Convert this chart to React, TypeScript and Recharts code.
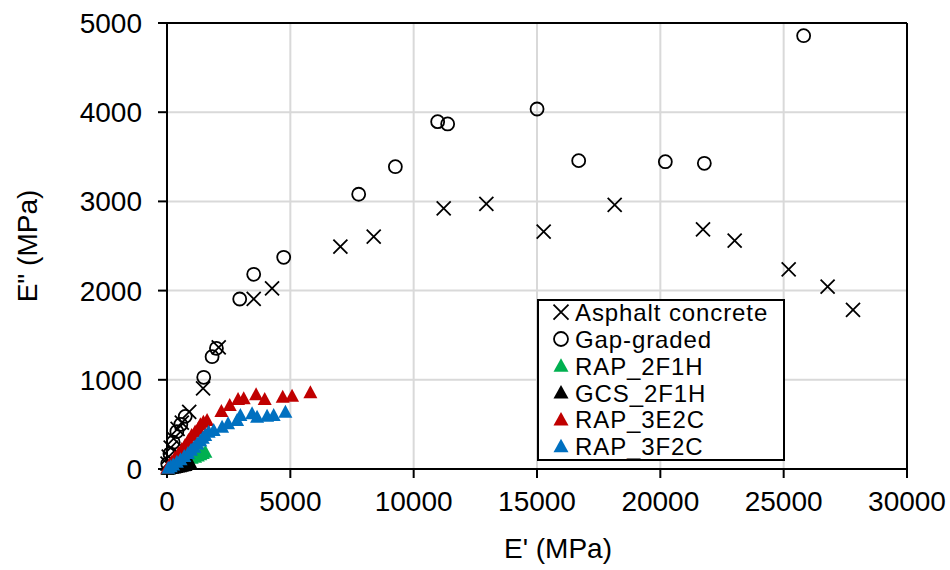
import { ScatterChart, Scatter, XAxis, YAxis, CartesianGrid, ReferenceLine, Label } from "recharts";

// E' (x) and E'' (y) values per mix, in MPa
const asphaltX = [20, 70, 150, 270, 430, 600, 900, 1463, 2097, 3515, 4259, 7029, 8380, 11217, 12947, 15270, 18149, 21730, 23013, 25203, 26782, 27811];
const asphaltY = [60, 140, 240, 340, 450, 520, 640, 905, 1364, 1906, 2026, 2492, 2604, 2922, 2971, 2661, 2960, 2687, 2560, 2239, 2044, 1783];

const gapX = [30, 120, 250, 400, 560, 740, 1489, 1828, 2004, 2948, 3515, 4731, 7771, 9258, 10973, 11378, 15002, 16690, 20203, 21784, 25810];
const gapY = [60, 170, 300, 420, 500, 590, 1028, 1259, 1353, 1906, 2183, 2373, 3080, 3389, 3894, 3868, 4036, 3457, 3445, 3427, 4858];

const rap2f1hX = [30, 90, 150, 250, 350, 480, 600, 720, 850, 1000, 1138, 1250, 1350, 1450, 1556];
const rap2f1hY = [5, 15, 25, 38, 50, 65, 80, 95, 110, 125, 138, 150, 165, 180, 194];

const gcs2f1hX = [20, 80, 150, 220, 300, 380, 450, 530, 600, 680, 750, 850, 950];
const gcs2f1hY = [3, 6, 10, 14, 18, 22, 27, 31, 36, 41, 46, 55, 70];

const rap3e2cX = [10, 100, 190, 320, 462, 600, 733, 870, 1000, 1140, 1273, 1354, 1475, 1625, 2205, 2543, 2881, 3110, 3611, 3961, 4691, 5070, 5813];
const rap3e2cY = [15, 50, 82, 130, 176, 225, 269, 325, 381, 420, 456, 501, 530, 549, 650, 717, 785, 793, 837, 785, 811, 822, 860];

const rap3f2cX = [50, 150, 250, 400, 550, 700, 850, 975, 1100, 1225, 1350, 1450, 1550, 1690, 1893, 2233, 2476, 2841, 2975, 3449, 3652, 4057, 4325, 4800];
const rap3f2cY = [15, 30, 50, 80, 110, 145, 180, 215, 250, 285, 320, 350, 380, 418, 437, 475, 512, 549, 605, 624, 587, 598, 605, 642];

const xTicks = [0, 5000, 10000, 15000, 20000, 25000, 30000];
const yTicks = [0, 1000, 2000, 3000, 4000, 5000];

const legendItems = [
  { name: "Asphalt concrete", kind: "cross", color: "#000000" },
  { name: "Gap-graded", kind: "circle", color: "#000000" },
  { name: "RAP_2F1H", kind: "tri", color: "#00b050" },
  { name: "GCS_2F1H", kind: "tri", color: "#000000" },
  { name: "RAP_3E2C", kind: "tri", color: "#c00000" },
  { name: "RAP_3F2C", kind: "tri", color: "#0070c0" },
];

const pts = (xs: number[], ys: number[]) => xs.map((x, i) => ({ x, y: ys[i] }));

const FONT = "'Liberation Sans', Arial, sans-serif";

function Marker({ kind, color, cx, cy, s = 7 }: any) {
  if (kind === "cross")
    return (
      <path
        d={`M${cx - s},${cy - s}L${cx + s},${cy + s}M${cx - s},${cy + s}L${cx + s},${cy - s}`}
        stroke={color}
        strokeWidth={1.8}
        fill="none"
      />
    );
  if (kind === "circle") return <circle cx={cx} cy={cy} r={s - 0.5} stroke={color} strokeWidth={1.8} fill="none" />;
  return <path d={`M${cx},${cy - s}L${cx + s},${cy + 6}L${cx - s},${cy + 6}Z`} fill={color} />;
}

const shapeFor = (kind: string, color: string) => (p: any) => <Marker kind={kind} color={color} cx={p.cx} cy={p.cy} />;

function LegendBox() {
  return (
    <svg width={250} height={165} style={{ position: "absolute", left: 537, top: 299 }}>
      <rect x={1} y={1} width={246} height={160} fill="#fff" stroke="#000" strokeWidth={2} />
      {legendItems.map((it, i) => {
        const base = 22.2 + i * 26.8;
        return (
          <g key={it.name}>
            <Marker kind={it.kind} color={it.color} cx={24} cy={base - 9} s={7.5} />
            <text x={38} y={base} fontFamily={FONT} fontSize={24} letterSpacing={0.9} fill="#000">
              {it.name}
            </text>
          </g>
        );
      })}
    </svg>
  );
}

export default function App() {
  const tick = { fontFamily: FONT, fontSize: 28, fill: "#000" };
  return (
    <div style={{ position: "absolute", left: 0, top: 0, width: 950, height: 570, background: "#fff" }}>
      <ScatterChart width={950} height={570} margin={{ top: 23, right: 43, bottom: 0, left: 0 }}>
        <CartesianGrid stroke="#d9d9d9" strokeWidth={2} />
        <XAxis
          type="number"
          dataKey="x"
          domain={[0, 30000]}
          ticks={xTicks}
          height={101}
          tick={tick}
          tickSize={9}
          tickMargin={13}
          axisLine={{ stroke: "#000", strokeWidth: 2 }}
          tickLine={{ stroke: "#000", strokeWidth: 2 }}
          interval={0}
        >
          <Label
            content={() => (
              <text x={558} y={558} textAnchor="middle" fontFamily={FONT} fontSize={28} fill="#000">
                E' (MPa)
              </text>
            )}
          />
        </XAxis>
        <YAxis
          type="number"
          dataKey="y"
          domain={[0, 5000]}
          ticks={yTicks}
          width={167}
          tick={tick}
          tickSize={9}
          tickMargin={16}
          axisLine={{ stroke: "#000", strokeWidth: 2 }}
          tickLine={{ stroke: "#000", strokeWidth: 2 }}
          interval={0}
        >
          <Label
            content={() => (
              <text
                x={37}
                y={246}
                transform="rotate(-90, 37, 246)"
                textAnchor="middle"
                fontFamily={FONT}
                fontSize={28}
                fill="#000"
              >
                E" (MPa)
              </text>
            )}
          />
        </YAxis>
        <ReferenceLine y={5000} stroke="#000" strokeWidth={2} />
        <ReferenceLine x={30000} stroke="#000" strokeWidth={2} />
        <Scatter name="Asphalt concrete" data={pts(asphaltX, asphaltY)} shape={shapeFor("cross", "#000000")} isAnimationActive={false} />
        <Scatter name="Gap-graded" data={pts(gapX, gapY)} shape={shapeFor("circle", "#000000")} isAnimationActive={false} />
        <Scatter name="RAP_2F1H" data={pts(rap2f1hX, rap2f1hY)} shape={shapeFor("tri", "#00b050")} isAnimationActive={false} />
        <Scatter name="GCS_2F1H" data={pts(gcs2f1hX, gcs2f1hY)} shape={shapeFor("tri", "#000000")} isAnimationActive={false} />
        <Scatter name="RAP_3E2C" data={pts(rap3e2cX, rap3e2cY)} shape={shapeFor("tri", "#c00000")} isAnimationActive={false} />
        <Scatter name="RAP_3F2C" data={pts(rap3f2cX, rap3f2cY)} shape={shapeFor("tri", "#0070c0")} isAnimationActive={false} />
      </ScatterChart>
      <LegendBox />
    </div>
  );
}
